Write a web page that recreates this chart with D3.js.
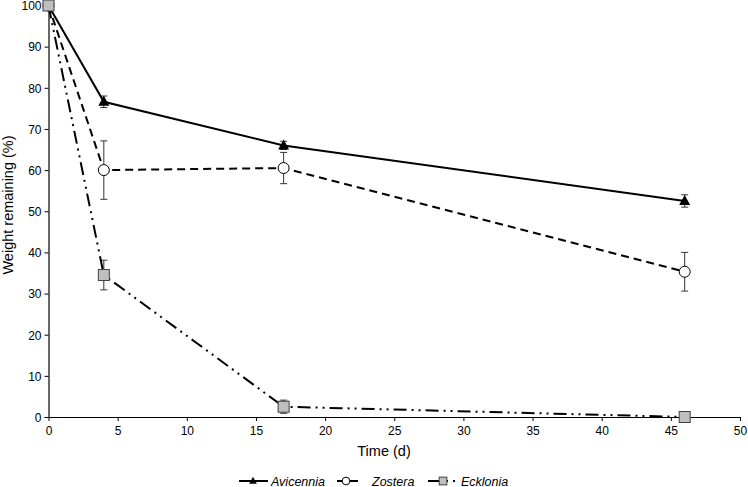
<!DOCTYPE html>
<html><head><meta charset="utf-8">
<script src="https://cdn.jsdelivr.net/npm/d3@7"></script>
<style>body{margin:0;background:#fff;} text{font-family:"Liberation Sans",Arial,sans-serif;}</style>
</head><body><svg id="c" width="748" height="487"></svg>
<script>
const days = [0, 4, 17, 46];
const avicennia = [100, 76.6, 66, 52.5];
const avicenniaErr = [0, 1.4, 1.0, 1.5];
const zostera = [100, 60, 60.5, 35.3];
const zosteraErr = [0, 7.1, 3.8, 4.7];
const ecklonia = [100, 34.5, 2.5, 0];
const eckloniaErr = [0, 3.6, 1.6, 0];
const xTicks = [0,5,10,15,20,25,30,35,40,45,50];
const yTicks = [0,10,20,30,40,50,60,70,80,90,100];

const series = [
  {name:"Avicennia", vals:avicennia, err:avicenniaErr, dash:null, marker:"tri"},
  {name:"Zostera", vals:zostera, err:zosteraErr, dash:"8,5", marker:"circ"},
  {name:"Ecklonia", vals:ecklonia, err:eckloniaErr, dash:"13,5,2,5,2,5", marker:"sq"}
];

const svg = d3.select("#c");
const x = d3.scaleLinear().domain([0,50]).range([48.5,740]);
const y = d3.scaleLinear().domain([0,100]).range([417,5.5]);

svg.append("g").attr("transform","translate(0,417)")
  .call(d3.axisBottom(x).tickValues(xTicks).tickSize(4).tickSizeOuter(0))
  .call(g=>{g.select(".domain").attr("stroke","#000").attr("stroke-width",1.2);
    g.selectAll("text").attr("font-size",12).attr("dy","0.9em").attr("fill","#000");});
svg.append("g").attr("transform","translate(48.5,0)")
  .call(d3.axisLeft(y).tickValues(yTicks).tickSize(4).tickSizeOuter(0))
  .call(g=>{g.select(".domain").attr("stroke","#000").attr("stroke-width",1.2);
    g.selectAll("text").attr("font-size",12).attr("fill","#000").attr("dy","0.36em");});

svg.append("text").attr("x",384).attr("y",456).attr("text-anchor","middle").attr("font-size",14.5).text("Time (d)");
svg.append("text").attr("transform","translate(13,205) rotate(-90)").attr("text-anchor","middle").attr("font-size",14.5).text("Weight remaining (%)");

const line = d3.line().x(d=>x(d[0])).y(d=>y(d[1]));

function marker(g, type, cx, cy, s){
  s = s || 1;
  if(type==="tri"){
    g.append("path").attr("d",`M${cx},${cy-6*s}L${cx+5.5*s},${cy+4*s}L${cx-5.5*s},${cy+4*s}Z`).attr("fill","#000");
  } else if(type==="circ"){
    g.append("circle").attr("cx",cx).attr("cy",cy).attr("r",5.5*s).attr("fill","#fff").attr("stroke","#000").attr("stroke-width",1);
  } else {
    g.append("rect").attr("x",cx-5.5*s).attr("y",cy-5.5*s).attr("width",11*s).attr("height",11*s).attr("fill","#bfbfbf").attr("stroke","#404040").attr("stroke-width",1);
  }
}

series.forEach(s=>{
  const g = svg.append("g");
  const pts = days.map((d,i)=>[d,s.vals[i]]);
  days.forEach((d,i)=>{
    const e = s.err[i]; if(!e) return;
    const cx = x(d);
    g.append("line").attr("x1",cx).attr("x2",cx).attr("y1",y(s.vals[i]+e)).attr("y2",y(s.vals[i]-e)).attr("stroke","#333").attr("stroke-width",1);
    [s.vals[i]+e, s.vals[i]-e].forEach(v=>g.append("line").attr("x1",cx-3.5).attr("x2",cx+3.5).attr("y1",y(v)).attr("y2",y(v)).attr("stroke","#333").attr("stroke-width",1));
  });
  g.append("path").datum(pts).attr("d",line).attr("fill","none").attr("stroke","#000").attr("stroke-width",2)
    .attr("stroke-dasharray",s.dash);
  pts.forEach(p=>marker(g,s.marker,x(p[0]),y(p[1])));
});

// legend
const legStart = [239, 337, 428];
const legEnd = [268, 358, 456];
const legMark = [253, 346, 443];
const legText = [271, 372, 461];
series.forEach((s,i)=>{
  const g = svg.append("g");
  const ly = 481;
  g.append("line").attr("x1",legStart[i]).attr("x2",legEnd[i]).attr("y1",ly).attr("y2",ly).attr("stroke","#000").attr("stroke-width",2).attr("stroke-dasharray",s.dash);
  marker(g, s.marker, legMark[i], ly, 0.7);
  g.append("text").attr("x",legText[i]).attr("y",ly+4.5).attr("font-size",12.5).attr("font-style","italic").text(s.name);
});
</script></body></html>
